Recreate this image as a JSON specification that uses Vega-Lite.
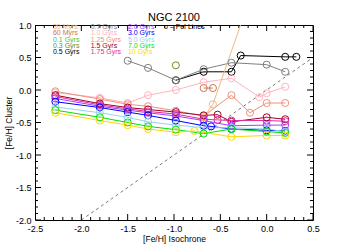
{
  "$schema": "https://vega.github.io/schema/vega-lite/v6.json",
  "width": 278,
  "height": 195,
  "autosize": "none",
  "padding": {"left": 35, "top": 25, "right": 37, "bottom": 25},
  "background": "white",
  "config": {"view": {"stroke": "black", "strokeWidth": 1}, "font": "Liberation Sans"},
  "title": {"text": "NGC 2100", "fontSize": 11, "fontWeight": "normal", "font": "Liberation Sans", "color": "black", "anchor": "middle", "offset": -2, "frame": "group"},
  "datasets": {
    "pts": [
      {"series": "0.5 Gyrs", "x": -0.98, "y": 0.15},
      {"series": "0.5 Gyrs", "x": -0.68, "y": 0.28},
      {"series": "0.5 Gyrs", "x": -0.38, "y": 0.28},
      {"series": "0.5 Gyrs", "x": -0.28, "y": 0.53},
      {"series": "0.5 Gyrs", "x": 0.2, "y": 0.51},
      {"series": "0.5 Gyrs", "x": 0.32, "y": 0.51},
      {"series": "0.7 Gyrs", "x": -1.5, "y": 0.45},
      {"series": "0.7 Gyrs", "x": -1.28, "y": 0.34},
      {"series": "0.7 Gyrs", "x": -0.98, "y": 0.15},
      {"series": "0.7 Gyrs", "x": -0.68, "y": 0.32},
      {"series": "0.7 Gyrs", "x": -0.38, "y": 0.42},
      {"series": "0.7 Gyrs", "x": 0.0, "y": 0.39},
      {"series": "0.7 Gyrs", "x": 0.2, "y": 0.28},
      {"series": "0.3 Gyrs", "x": -0.98, "y": 0.38},
      {"series": "60 Myrs", "x": -0.68, "y": 0.03},
      {"series": "60 Myrs", "x": -0.58, "y": 0.03},
      {"series": "30 Myrs", "x": -0.68, "y": -0.42},
      {"series": "30 Myrs", "x": -0.58, "y": -0.22},
      {"series": "30 Myrs", "x": 0.0, "y": 2.15},
      {"series": "1.0 Gyrs", "x": -2.28, "y": -0.04},
      {"series": "1.0 Gyrs", "x": -1.8, "y": -0.12},
      {"series": "1.0 Gyrs", "x": -1.5, "y": -0.2},
      {"series": "1.0 Gyrs", "x": -1.28, "y": -0.08},
      {"series": "1.0 Gyrs", "x": -0.98, "y": 0.0},
      {"series": "1.0 Gyrs", "x": -0.68, "y": 0.12},
      {"series": "1.0 Gyrs", "x": -0.38, "y": 0.18},
      {"series": "1.0 Gyrs", "x": -0.08, "y": -0.11},
      {"series": "1.0 Gyrs", "x": 0.0, "y": -0.05},
      {"series": "1.0 Gyrs", "x": 0.2, "y": 0.05},
      {"series": "1.25 Gyrs", "x": -2.28, "y": -0.02},
      {"series": "1.25 Gyrs", "x": -1.8, "y": -0.14},
      {"series": "1.25 Gyrs", "x": -1.5, "y": -0.22},
      {"series": "1.25 Gyrs", "x": -1.28, "y": -0.25},
      {"series": "1.25 Gyrs", "x": -0.98, "y": -0.32},
      {"series": "1.25 Gyrs", "x": -0.68, "y": -0.4},
      {"series": "1.25 Gyrs", "x": -0.38, "y": -0.08},
      {"series": "1.25 Gyrs", "x": -0.18, "y": -0.35},
      {"series": "1.25 Gyrs", "x": 0.0, "y": -0.2},
      {"series": "1.25 Gyrs", "x": 0.2, "y": -0.2},
      {"series": "1.5 Gyrs", "x": -2.28, "y": -0.08},
      {"series": "1.5 Gyrs", "x": -1.8, "y": -0.21},
      {"series": "1.5 Gyrs", "x": -1.5, "y": -0.27},
      {"series": "1.5 Gyrs", "x": -1.28, "y": -0.3},
      {"series": "1.5 Gyrs", "x": -0.98, "y": -0.34},
      {"series": "1.5 Gyrs", "x": -0.68, "y": -0.39},
      {"series": "1.5 Gyrs", "x": -0.53, "y": -0.38},
      {"series": "1.5 Gyrs", "x": -0.38, "y": -0.49},
      {"series": "1.5 Gyrs", "x": 0.0, "y": -0.42},
      {"series": "1.5 Gyrs", "x": 0.2, "y": -0.45},
      {"series": "1.75 Gyrs", "x": -2.28, "y": -0.1},
      {"series": "1.75 Gyrs", "x": -1.8, "y": -0.23},
      {"series": "1.75 Gyrs", "x": -1.5, "y": -0.29},
      {"series": "1.75 Gyrs", "x": -1.28, "y": -0.33},
      {"series": "1.75 Gyrs", "x": -0.98, "y": -0.37},
      {"series": "1.75 Gyrs", "x": -0.68, "y": -0.45},
      {"series": "1.75 Gyrs", "x": -0.53, "y": -0.46},
      {"series": "1.75 Gyrs", "x": -0.38, "y": -0.47},
      {"series": "1.75 Gyrs", "x": 0.0, "y": -0.47},
      {"series": "1.75 Gyrs", "x": 0.2, "y": -0.48},
      {"series": "2.0 Gyrs", "x": -2.28, "y": -0.13},
      {"series": "2.0 Gyrs", "x": -1.8, "y": -0.25},
      {"series": "2.0 Gyrs", "x": -1.5, "y": -0.31},
      {"series": "2.0 Gyrs", "x": -1.28, "y": -0.35},
      {"series": "2.0 Gyrs", "x": -0.98, "y": -0.4},
      {"series": "2.0 Gyrs", "x": -0.68, "y": -0.47},
      {"series": "2.0 Gyrs", "x": -0.38, "y": -0.55},
      {"series": "2.0 Gyrs", "x": 0.0, "y": -0.54},
      {"series": "2.0 Gyrs", "x": 0.2, "y": -0.54},
      {"series": "3.0 Gyrs", "x": -2.28, "y": -0.18},
      {"series": "3.0 Gyrs", "x": -1.8, "y": -0.27},
      {"series": "3.0 Gyrs", "x": -1.5, "y": -0.34},
      {"series": "3.0 Gyrs", "x": -1.28, "y": -0.39},
      {"series": "3.0 Gyrs", "x": -0.98, "y": -0.47},
      {"series": "3.0 Gyrs", "x": -0.68, "y": -0.55},
      {"series": "3.0 Gyrs", "x": -0.6, "y": -0.56},
      {"series": "3.0 Gyrs", "x": -0.38, "y": -0.6},
      {"series": "3.0 Gyrs", "x": 0.0, "y": -0.62},
      {"series": "3.0 Gyrs", "x": 0.2, "y": -0.63},
      {"series": "5.0 Gyrs", "x": -2.28, "y": -0.26},
      {"series": "5.0 Gyrs", "x": -1.8, "y": -0.35},
      {"series": "5.0 Gyrs", "x": -1.5, "y": -0.42},
      {"series": "5.0 Gyrs", "x": -1.28, "y": -0.49},
      {"series": "5.0 Gyrs", "x": -0.98, "y": -0.54},
      {"series": "5.0 Gyrs", "x": -0.68, "y": -0.58},
      {"series": "5.0 Gyrs", "x": -0.38, "y": -0.58},
      {"series": "5.0 Gyrs", "x": 0.0, "y": -0.6},
      {"series": "5.0 Gyrs", "x": 0.2, "y": -0.64},
      {"series": "7.0 Gyrs", "x": -2.28, "y": -0.31},
      {"series": "7.0 Gyrs", "x": -1.8, "y": -0.42},
      {"series": "7.0 Gyrs", "x": -1.5, "y": -0.5},
      {"series": "7.0 Gyrs", "x": -1.28, "y": -0.56},
      {"series": "7.0 Gyrs", "x": -0.98, "y": -0.61},
      {"series": "7.0 Gyrs", "x": -0.68, "y": -0.67},
      {"series": "7.0 Gyrs", "x": -0.38, "y": -0.6},
      {"series": "7.0 Gyrs", "x": 0.0, "y": -0.64},
      {"series": "7.0 Gyrs", "x": 0.2, "y": -0.66},
      {"series": "10 Gyrs", "x": -2.28, "y": -0.35},
      {"series": "10 Gyrs", "x": -1.8, "y": -0.47},
      {"series": "10 Gyrs", "x": -1.5, "y": -0.54},
      {"series": "10 Gyrs", "x": -1.28, "y": -0.6},
      {"series": "10 Gyrs", "x": -0.98, "y": -0.65},
      {"series": "10 Gyrs", "x": -0.78, "y": -0.63},
      {"series": "10 Gyrs", "x": -0.38, "y": -0.72},
      {"series": "10 Gyrs", "x": 0.0, "y": -0.7},
      {"series": "10 Gyrs", "x": 0.2, "y": -0.7}
    ],
    "leg": [
      {"series": "30 Myrs", "x": -2.306, "y": 0.965},
      {"series": "60 Myrs", "x": -2.306, "y": 0.871},
      {"series": "0.1 Gyrs", "x": -2.306, "y": 0.775},
      {"series": "0.3 Gyrs", "x": -2.306, "y": 0.682},
      {"series": "0.5 Gyrs", "x": -2.306, "y": 0.588},
      {"series": "0.7 Gyrs", "x": -1.899, "y": 0.965},
      {"series": "1.0 Gyrs", "x": -1.899, "y": 0.871},
      {"series": "1.25 Gyrs", "x": -1.899, "y": 0.775},
      {"series": "1.5 Gyrs", "x": -1.899, "y": 0.682},
      {"series": "1.75 Gyrs", "x": -1.899, "y": 0.588},
      {"series": "2.0 Gyrs", "x": -1.497, "y": 0.965},
      {"series": "3.0 Gyrs", "x": -1.497, "y": 0.871},
      {"series": "5.0 Gyrs", "x": -1.497, "y": 0.775},
      {"series": "7.0 Gyrs", "x": -1.497, "y": 0.682},
      {"series": "10 Gyrs", "x": -1.497, "y": 0.588},
      {"series": "o = FeI Lines", "x": -1.108, "y": 0.965}
    ],
    "diag": [
      {"x": -2.0, "y": -2.0},
      {"x": 0.5, "y": 0.5}
    ],
    "xt": [
      {"v": -2.5, "kind": "major"}, {"v": -2.4, "kind": "minor"}, {"v": -2.3, "kind": "minor"}, {"v": -2.2, "kind": "minor"}, {"v": -2.1, "kind": "minor"},
      {"v": -2.0, "kind": "major"}, {"v": -1.9, "kind": "minor"}, {"v": -1.8, "kind": "minor"}, {"v": -1.7, "kind": "minor"}, {"v": -1.6, "kind": "minor"},
      {"v": -1.5, "kind": "major"}, {"v": -1.4, "kind": "minor"}, {"v": -1.3, "kind": "minor"}, {"v": -1.2, "kind": "minor"}, {"v": -1.1, "kind": "minor"},
      {"v": -1.0, "kind": "major"}, {"v": -0.9, "kind": "minor"}, {"v": -0.8, "kind": "minor"}, {"v": -0.7, "kind": "minor"}, {"v": -0.6, "kind": "minor"},
      {"v": -0.5, "kind": "major"}, {"v": -0.4, "kind": "minor"}, {"v": -0.3, "kind": "minor"}, {"v": -0.2, "kind": "minor"}, {"v": -0.1, "kind": "minor"},
      {"v": 0.0, "kind": "major"}, {"v": 0.1, "kind": "minor"}, {"v": 0.2, "kind": "minor"}, {"v": 0.3, "kind": "minor"}, {"v": 0.4, "kind": "minor"},
      {"v": 0.5, "kind": "major"}
    ],
    "yt": [
      {"v": -2.0, "kind": "major"}, {"v": -1.9, "kind": "minor"}, {"v": -1.8, "kind": "minor"}, {"v": -1.7, "kind": "minor"}, {"v": -1.6, "kind": "minor"},
      {"v": -1.5, "kind": "major"}, {"v": -1.4, "kind": "minor"}, {"v": -1.3, "kind": "minor"}, {"v": -1.2, "kind": "minor"}, {"v": -1.1, "kind": "minor"},
      {"v": -1.0, "kind": "major"}, {"v": -0.9, "kind": "minor"}, {"v": -0.8, "kind": "minor"}, {"v": -0.7, "kind": "minor"}, {"v": -0.6, "kind": "minor"},
      {"v": -0.5, "kind": "major"}, {"v": -0.4, "kind": "minor"}, {"v": -0.3, "kind": "minor"}, {"v": -0.2, "kind": "minor"}, {"v": -0.1, "kind": "minor"},
      {"v": 0.0, "kind": "major"}, {"v": 0.1, "kind": "minor"}, {"v": 0.2, "kind": "minor"}, {"v": 0.3, "kind": "minor"}, {"v": 0.4, "kind": "minor"},
      {"v": 0.5, "kind": "major"}, {"v": 0.6, "kind": "minor"}, {"v": 0.7, "kind": "minor"}, {"v": 0.8, "kind": "minor"}, {"v": 0.9, "kind": "minor"},
      {"v": 1.0, "kind": "major"}
    ]
  },
  "layer": [
    {
      "data": {"name": "diag"},
      "mark": {"type": "line", "strokeDash": [3, 3], "color": "#555555", "strokeWidth": 0.8},
      "encoding": {
        "x": {"field": "x", "type": "quantitative", "scale": {"domain": [-2.5, 0.5], "nice": false, "zero": false},
          "axis": {"orient": "bottom", "values": [-2.5, -2, -1.5, -1, -0.5, 0, 0.5], "ticks": false, "domain": false, "grid": false,
            "labelExpr": "(datum.value < 0 ? '-' : '') + format(abs(datum.value), '.1f')", "labelFontSize": 9, "labelPadding": 4, "labelColor": "black", "labelFlush": false, "labelOverlap": false, "labelFont": "Liberation Sans",
            "title": "[Fe/H] Isochrone", "titleFontSize": 8.5, "titleFontWeight": "normal", "titleColor": "black", "titleFont": "Liberation Sans", "titleY": 18, "titleBaseline": "middle"}},
        "y": {"field": "y", "type": "quantitative", "scale": {"domain": [-2, 1], "nice": false, "zero": false},
          "axis": {"orient": "left", "values": [-2, -1.5, -1, -0.5, 0, 0.5, 1], "ticks": false, "domain": false, "grid": false,
            "labelExpr": "(datum.value < 0 ? '-' : '') + format(abs(datum.value), '.1f')", "labelFontSize": 9, "labelPadding": 4, "labelColor": "black", "labelFlush": false, "labelOverlap": false, "labelFont": "Liberation Sans",
            "title": "[Fe/H] Cluster", "titleFontSize": 8.5, "titleFontWeight": "normal", "titleColor": "black", "titleFont": "Liberation Sans", "titleX": -27, "titleY": 97.5, "titleBaseline": "middle", "titleAlign": "center", "titleAngle": 270}}
      }
    },
    {
      "data": {"name": "xt"},
      "mark": {"type": "tick", "orient": "vertical", "thickness": 1, "color": "black", "clip": true, "opacity": 1},
      "encoding": {
        "x": {"field": "v", "type": "quantitative", "scale": {"domain": [-2.5, 0.5], "nice": false, "zero": false}, "axis": null},
        "y": {"datum": -2, "type": "quantitative", "scale": {"domain": [-2, 1], "nice": false, "zero": false}, "axis": null},
        "size": {"field": "kind", "type": "nominal", "scale": {"domain": ["major", "minor"], "range": [12, 6]}, "legend": null}
      }
    },
    {
      "data": {"name": "xt"},
      "mark": {"type": "tick", "orient": "vertical", "thickness": 1, "color": "black", "clip": true, "opacity": 1},
      "encoding": {
        "x": {"field": "v", "type": "quantitative", "scale": {"domain": [-2.5, 0.5], "nice": false, "zero": false}, "axis": null},
        "y": {"datum": 1, "type": "quantitative", "scale": {"domain": [-2, 1], "nice": false, "zero": false}, "axis": null},
        "size": {"field": "kind", "type": "nominal", "legend": null}
      }
    },
    {
      "data": {"name": "yt"},
      "mark": {"type": "tick", "orient": "horizontal", "thickness": 1, "color": "black", "clip": true, "opacity": 1},
      "encoding": {
        "y": {"field": "v", "type": "quantitative", "scale": {"domain": [-2, 1], "nice": false, "zero": false}, "axis": null},
        "x": {"datum": -2.5, "type": "quantitative", "scale": {"domain": [-2.5, 0.5], "nice": false, "zero": false}, "axis": null},
        "size": {"field": "kind", "type": "nominal", "legend": null}
      }
    },
    {
      "data": {"name": "yt"},
      "mark": {"type": "tick", "orient": "horizontal", "thickness": 1, "color": "black", "clip": true, "opacity": 1},
      "encoding": {
        "y": {"field": "v", "type": "quantitative", "scale": {"domain": [-2, 1], "nice": false, "zero": false}, "axis": null},
        "x": {"datum": 0.5, "type": "quantitative", "scale": {"domain": [-2.5, 0.5], "nice": false, "zero": false}, "axis": null},
        "size": {"field": "kind", "type": "nominal", "legend": null}
      }
    },
    {
      "data": {"name": "pts"},
      "mark": {"type": "line", "strokeWidth": 1, "clip": true},
      "encoding": {
        "x": {"field": "x", "type": "quantitative", "scale": {"domain": [-2.5, 0.5], "nice": false, "zero": false}, "axis": null},
        "y": {"field": "y", "type": "quantitative", "scale": {"domain": [-2, 1], "nice": false, "zero": false}, "axis": null},
        "color": {"field": "series", "type": "nominal", "legend": null,
          "scale": {"domain": ["30 Myrs", "60 Myrs", "0.1 Gyrs", "0.3 Gyrs", "0.5 Gyrs", "0.7 Gyrs", "1.0 Gyrs", "1.25 Gyrs", "1.5 Gyrs", "1.75 Gyrs", "2.0 Gyrs", "3.0 Gyrs", "5.0 Gyrs", "7.0 Gyrs", "10 Gyrs", "o = FeI Lines"],
            "range": ["#F2B880", "#C8764E", "#3CC83C", "#6E8C28", "#000000", "#7F7F7F", "#FFB4C0", "#F0907A", "#A0002A", "#E02C9C", "#A040FF", "#0000FF", "#96D2F5", "#00E000", "#FFD700", "#000000"]}}
      }
    },
    {
      "data": {"name": "pts"},
      "mark": {"type": "point", "shape": "circle", "filled": false, "size": 50, "strokeWidth": 1, "clip": true, "opacity": 1},
      "encoding": {
        "x": {"field": "x", "type": "quantitative", "scale": {"domain": [-2.5, 0.5], "nice": false, "zero": false}, "axis": null},
        "y": {"field": "y", "type": "quantitative", "scale": {"domain": [-2, 1], "nice": false, "zero": false}, "axis": null},
        "color": {"field": "series", "type": "nominal", "legend": null}
      }
    },
    {
      "data": {"name": "leg"},
      "mark": {"type": "text", "align": "left", "baseline": "middle", "fontSize": 7, "font": "Liberation Sans"},
      "encoding": {
        "x": {"field": "x", "type": "quantitative", "scale": {"domain": [-2.5, 0.5], "nice": false, "zero": false}, "axis": null},
        "y": {"field": "y", "type": "quantitative", "scale": {"domain": [-2, 1], "nice": false, "zero": false}, "axis": null},
        "text": {"field": "series"},
        "color": {"field": "series", "type": "nominal", "legend": null}
      }
    }
  ],
  "resolve": {"axis": {"x": "independent", "y": "independent"}}
}
